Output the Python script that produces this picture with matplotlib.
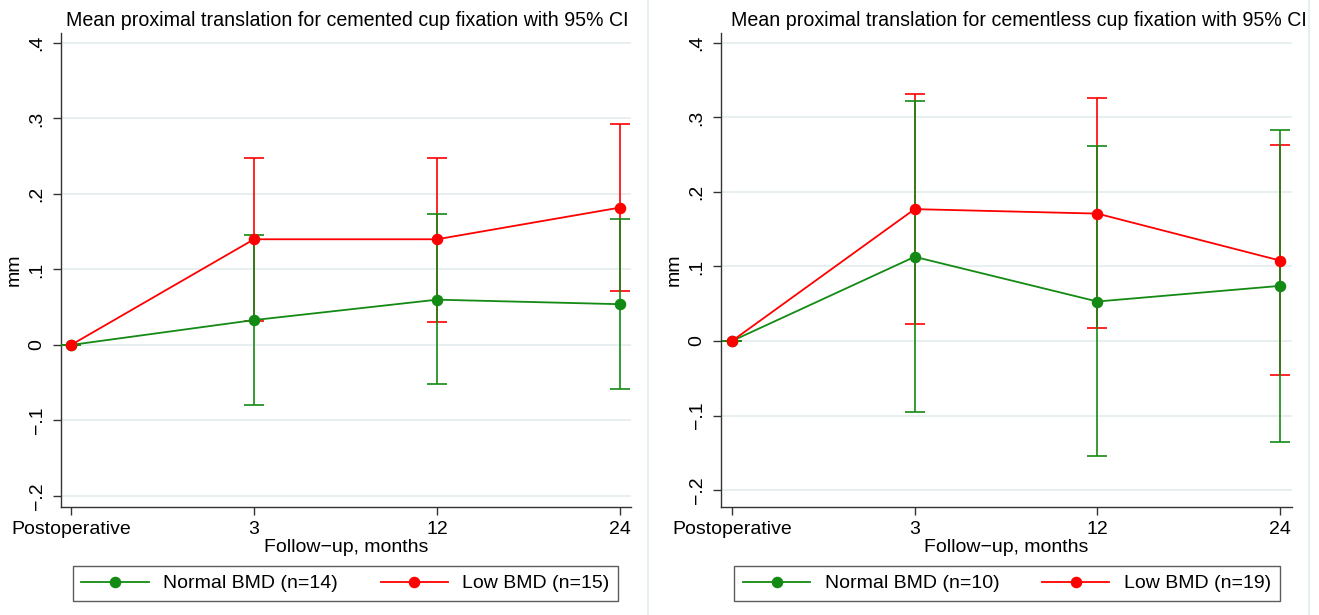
import matplotlib
matplotlib.use("Agg")
import matplotlib.pyplot as plt
from matplotlib.lines import Line2D

plt.rcParams['font.family'] = ['Liberation Sans', 'DejaVu Sans']

# follow-up categories
visits = ["Postoperative", "3", "12", "24"]
xpos = [0, 1, 2, 3]

# cemented cup
cem_normal = [0.0, 0.033, 0.060, 0.054]
cem_normal_lo = [0.0, -0.079, -0.052, -0.058]
cem_normal_hi = [0.0, 0.146, 0.173, 0.167]
cem_low = [0.0, 0.140, 0.140, 0.182]
cem_low_lo = [0.0, 0.032, 0.031, 0.071]
cem_low_hi = [0.0, 0.248, 0.248, 0.293]

# cementless cup
cl_normal = [0.0, 0.113, 0.053, 0.074]
cl_normal_lo = [0.0, -0.095, -0.155, -0.135]
cl_normal_hi = [0.0, 0.322, 0.262, 0.283]
cl_low = [0.0, 0.177, 0.171, 0.108]
cl_low_lo = [0.0, 0.023, 0.017, -0.046]
cl_low_hi = [0.0, 0.331, 0.326, 0.263]

yticks = [-0.2, -0.1, 0, 0.1, 0.2, 0.3, 0.4]
yticklabels = ["\u2212.2", "\u2212.1", "0", ".1", ".2", ".3", ".4"]

titles = ["Mean proximal translation for cemented cup fixation with 95% CI",
          "Mean proximal translation for cementless cup fixation with 95% CI"]
normal_labels = ["Normal BMD (n=14)", "Normal BMD (n=10)"]
low_labels = ["Low BMD (n=15)", "Low BMD (n=19)"]

GREEN = "#138a13"
RED = "#ff0000"
GRID = "#e6eef0"
FS = 14

W, H = 1319, 615
fig = plt.figure(figsize=(W / 100, H / 100), dpi=100)

panels = [
    dict(rect=(61, 631), ylim=(-0.2146, 0.4132), xlim=(-0.0546, 3.060),
         title_x=347, leg_x=345.5,
         data=(cem_normal, cem_normal_lo, cem_normal_hi, cem_low, cem_low_lo, cem_low_hi)),
    dict(rect=(721, 1292), ylim=(-0.2228, 0.4134), xlim=(-0.060, 3.0656),
         title_x=1018.5, leg_x=1007,
         data=(cl_normal, cl_normal_lo, cl_normal_hi, cl_low, cl_low_lo, cl_low_hi)),
]


def err(mean, lo, hi):
    return [[m - l for m, l in zip(mean, lo)], [h - m for m, h in zip(mean, hi)]]


for i, p in enumerate(panels):
    x0, x1 = p["rect"]
    ax = fig.add_axes([x0 / W, 1 - 507 / H, (x1 - x0) / W, (507 - 33) / H])
    nm, nlo, nhi, lm, llo, lhi = p["data"]

    # CI caps
    ax.errorbar(xpos, lm, yerr=err(lm, llo, lhi), fmt='none', ecolor=RED,
                elinewidth=1.2, capsize=7, capthick=1.2, zorder=3)
    ax.errorbar(xpos, nm, yerr=err(nm, nlo, nhi), fmt='none', ecolor=GREEN,
                elinewidth=1.2, capsize=7, capthick=1.2, zorder=4)
    # means
    hn, = ax.plot(xpos, nm, color=GREEN, lw=1.3, marker='o', ms=7.3, zorder=5,
                  label=normal_labels[i])
    hl, = ax.plot(xpos, lm, color=RED, lw=1.3, marker='o', ms=7.3, zorder=6,
                  label=low_labels[i])

    ax.set_xlim(*p["xlim"])
    ax.set_ylim(*p["ylim"])
    ax.set_xticks(xpos)
    ax.set_xticklabels(visits, fontsize=FS)
    ax.set_yticks(yticks)
    ax.set_yticklabels(yticklabels, fontsize=FS, rotation=90, va='center')
    ax.tick_params(axis='both', length=6, width=1, color='#333333', pad=4)
    ax.tick_params(axis='y', pad=5)
    ax.grid(axis='y', color=GRID, lw=1.3, zorder=0)
    ax.set_axisbelow(True)
    for s in ("top", "right"):
        ax.spines[s].set_visible(False)
    for s in ("left", "bottom"):
        ax.spines[s].set_color('#333333')
        ax.spines[s].set_linewidth(1)
    ax.set_xlabel("Follow\u2212up, months", fontsize=FS, labelpad=1)
    ax.set_ylabel("mm", fontsize=FS, labelpad=4)

    fig.text(p["title_x"] / W, 1 - 20 / H, titles[i], fontsize=14.1,
             ha='center', va='center')

    leg = ax.legend(handles=[hn, hl], loc='center', ncol=2, fontsize=FS,
                    bbox_to_anchor=(p["leg_x"] / W, 1 - 583.5 / H),
                    bbox_transform=fig.transFigure, frameon=True, fancybox=False,
                    handlelength=3.45, handletextpad=0.75, columnspacing=2.2,
                    borderpad=0.45, numpoints=1)
    leg.get_frame().set_edgecolor('#333333')
    leg.get_frame().set_linewidth(1.0)

# faint page edges between the two graphs
for xe in (648, 1309):
    fig.add_artist(Line2D([xe / W, xe / W], [0, 1], color='#e4ecef', lw=1.2))

fig.savefig("out.png", dpi=100, facecolor='white')
